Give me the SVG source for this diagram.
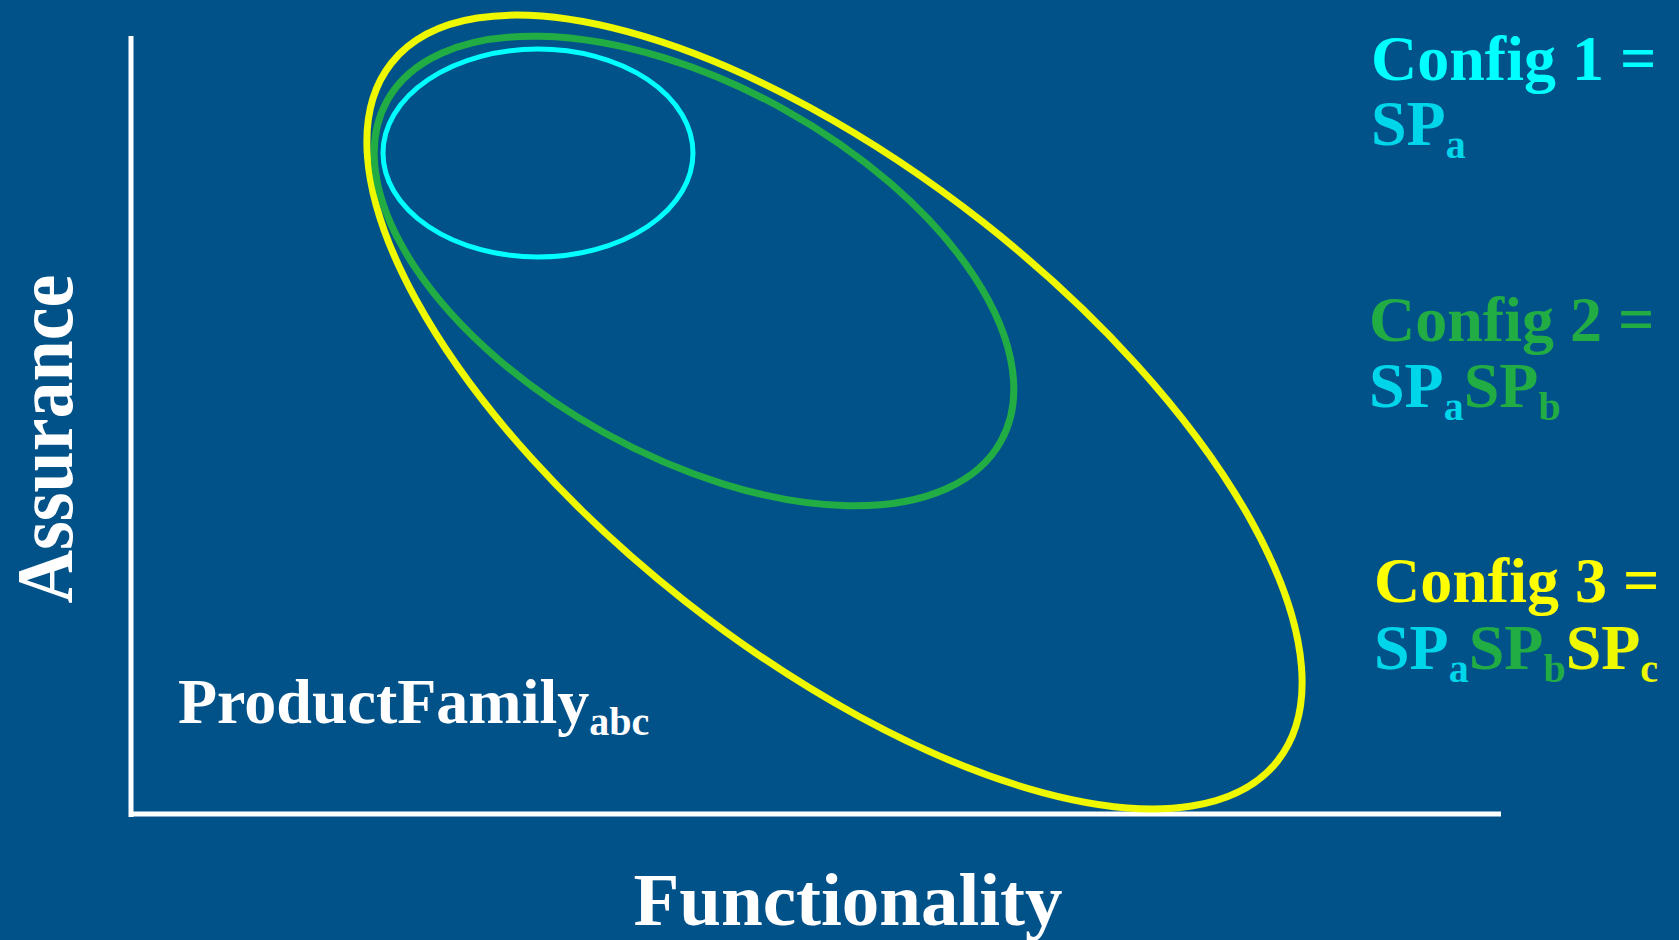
<svg xmlns="http://www.w3.org/2000/svg" width="1679" height="940" viewBox="0 0 1679 940">
<style>
text{font-family:"Liberation Serif","Times New Roman",serif;font-weight:bold}
.w{fill:#FFFFFF}
.cy{fill:#00FFFF}
.cy2{fill:#00D6EA}
.gr{fill:#22AC44}
.ye{fill:#FFFF00}
.ye2{fill:#EEF800}
.big{font-size:64px}
.sub{font-size:40px}
.ax{stroke:#FFFFFF;stroke-width:5;fill:none}
</style>
<rect x="0" y="0" width="1679" height="940" fill="#02528A"/>
<g id="axes">
<line class="ax" x1="131" y1="36" x2="131" y2="817"/>
<line class="ax" x1="129" y1="814" x2="1501" y2="814"/>
</g>
<g id="ellipse-config3">
<ellipse cx="834.5" cy="412" rx="564" ry="241" transform="rotate(38.2 834.5 412)" fill="none" stroke="#EEF800" stroke-width="7"/>
</g>
<g id="ellipse-config2">
<ellipse cx="694" cy="271" rx="351" ry="185" transform="rotate(29 694 271)" fill="none" stroke="#22AC44" stroke-width="7"/>
</g>
<g id="ellipse-config1">
<ellipse cx="538" cy="153" rx="155" ry="104" fill="none" stroke="#00FFFF" stroke-width="5"/>
</g>
<g id="label-assurance">
<text class="w" font-size="74" text-anchor="middle" transform="translate(72,439) scale(1.09,1) rotate(-90)">Assurance</text>
</g>
<g id="label-functionality">
<text class="w" font-size="75" text-anchor="middle" x="848" y="925">Functionality</text>
</g>
<g id="label-productfamily">
<text class="w big" x="178" y="723">ProductFamily<tspan class="sub" dy="12">abc</tspan></text>
</g>
<g id="config1">
<text class="cy big" x="1371" y="80">Config 1 =</text>
<text class="cy2 big" x="1371" y="145">SP<tspan class="sub" dy="13">a</tspan></text>
</g>
<g id="config2">
<text class="gr big" x="1369" y="341">Config 2 =</text>
<text class="big" x="1369" y="407"><tspan class="cy2">SP</tspan><tspan class="cy2 sub" dy="13">a</tspan><tspan class="gr" dy="-13">SP</tspan><tspan class="gr sub" dy="13">b</tspan></text>
</g>
<g id="config3">
<text class="ye big" x="1374" y="602">Config 3 =</text>
<text class="big" x="1374" y="669"><tspan class="cy2">SP</tspan><tspan class="cy2 sub" dy="13">a</tspan><tspan class="gr" dy="-13">SP</tspan><tspan class="gr sub" dy="13">b</tspan><tspan class="ye2" dy="-13">SP</tspan><tspan class="ye2 sub" dy="13">c</tspan></text>
</g>
</svg>
